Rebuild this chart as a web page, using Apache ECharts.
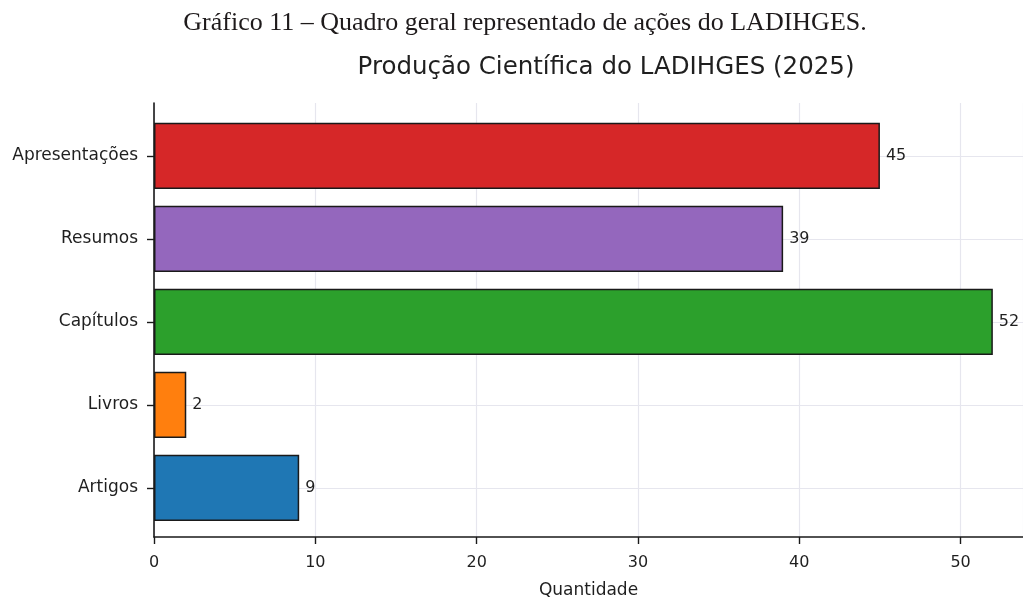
<!DOCTYPE html>
<html>
<head>
<meta charset="utf-8">
<script src="https://cdn.jsdelivr.net/npm/echarts@6/dist/echarts.min.js"></script>
<style>
html,body{margin:0;padding:0;background:#fff;}
#c{width:1023px;height:604px;}
</style>
</head>
<body>
<div id="c"></div>
<script>
const categories = ['Artigos', 'Livros', 'Capítulos', 'Resumos', 'Apresentações'];
const values = [9, 2, 52, 39, 45];
const barColors = ['#1f77b4', '#ff7f0e', '#2ca02c', '#9467bd', '#d62728'];
const xTicks = [0, 10, 20, 30, 40, 50];
const captionText = 'Gráfico 11 – Quadro geral representado de ações do LADIHGES.';
const titleText = 'Produção Científica do LADIHGES (2025)';
const xName = 'Quantidade';

const sans = 'DejaVu Sans';
const chart = echarts.init(document.getElementById('c'), null, {renderer: 'canvas'});
const XMAX = 53.87;

const option = {
  backgroundColor: '#ffffff',
  animation: false,
  title: [
    {text: captionText, left: 520, top: 5, textAlign: 'center',
     textStyle: {fontFamily: 'Liberation Serif', fontWeight: 'normal', fontSize: 26, color: '#1e1a1b'}},
    {text: titleText, left: 601, top: 50, textAlign: 'center',
     textStyle: {fontFamily: sans, fontWeight: 'normal', fontSize: 24.5, color: '#1f1f1f'}}
  ],
  grid: [
    {left: 154, right: 0, top: 103, bottom: 63, containLabel: false},
    {left: 154, right: 0, top: 114.4, bottom: 74.6, containLabel: false}
  ],
  xAxis: [
    {gridIndex: 0, type: 'value', min: 0, max: XMAX, interval: 10,
     axisLine: {show: true, lineStyle: {color: '#1a1a1a', width: 1.6}},
     axisTick: {show: true, length: 7, lineStyle: {color: '#1a1a1a', width: 1.4}},
     axisLabel: {show: true, fontFamily: sans, fontSize: 16, color: '#1f1f1f', margin: 18,
       showMaxLabel: false,
       formatter: v => (xTicks.indexOf(v) >= 0 ? String(v) : '')},
     splitLine: {show: true, lineStyle: {color: '#e6e6ee', width: 1.2}},
     name: xName, nameLocation: 'middle', nameGap: 45,
     nameTextStyle: {fontFamily: sans, fontSize: 17, color: '#1f1f1f'}},
    {gridIndex: 1, type: 'value', min: 0, max: XMAX, interval: 10, show: false,
     splitLine: {show: false}}
  ],
  yAxis: [
    {gridIndex: 0, type: 'value', min: 0, max: 1,
     axisLine: {show: true, lineStyle: {color: '#1a1a1a', width: 1.6}},
     axisTick: {show: false}, axisLabel: {show: false}, splitLine: {show: false}},
    {gridIndex: 1, type: 'category', data: categories,
     axisLine: {show: false},
     axisTick: {show: true, alignWithLabel: true, length: 7, lineStyle: {color: '#1a1a1a', width: 1.4}},
     axisLabel: {show: true, fontFamily: sans, fontSize: 17, color: '#1f1f1f', margin: 16},
     splitLine: {show: true, alignWithLabel: true, lineStyle: {color: '#e6e6ee', width: 1.2}}}
  ],
  series: [{
    type: 'bar',
    xAxisIndex: 1, yAxisIndex: 1,
    barWidth: '80%',
    data: values.map((v, i) => ({value: v, itemStyle: {color: barColors[i]}})),
    itemStyle: {borderColor: '#1a1a1a', borderWidth: 1.5},
    label: {show: true, position: 'right', distance: 6, fontFamily: sans, fontSize: 16, color: '#1f1f1f'}
  }]
};
chart.setOption(option);
</script>
</body>
</html>
